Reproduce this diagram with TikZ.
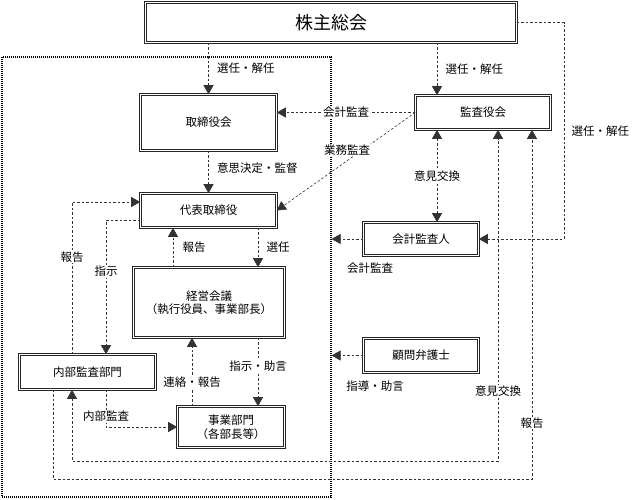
\documentclass[tikz,border=0pt]{standalone}
\usepackage{fontspec}
\setmainfont{Noto Sans CJK JP}
\usepackage{tikz}
\usetikzlibrary{arrows.meta,positioning}

\tikzset{
  box/.style={draw=black!85, double, double distance=1.8pt, line width=.6pt, align=center, inner sep=0pt},
  corpframe/.style={draw, line width=1.2pt, dash pattern=on 1pt off 1pt},
  conn/.style={draw=black!80, line width=.6pt, dash pattern=on 2.5pt off 2pt},
  lbl/.style={fill=white, inner sep=1pt},
}

\begin{document}
\begin{tikzpicture}[x=1pt, y=-1pt, >={Triangle[length=9pt,width=10pt]},
    every node/.style={font=\fontsize{11.5}{13.5}\selectfont}]
        \useasboundingbox (0,0) rectangle (633,499);
        % company frame
        \node[corpframe, minimum width=329pt, minimum height=440pt] (frame) at (166.5,277) {};

        % boxes
        \node[box, minimum width=371pt, minimum height=40pt, font=\fontsize{18}{20}\selectfont] (soukai) at (331,22.5) {株主総会};
        \node[box, minimum width=136pt, minimum height=56pt] (torishimari) at (208.5,122.5) {取締役会};
        \node[box, minimum width=135pt, minimum height=34pt] (kansa) at (483,112.5) {監査役会};
        \node[box, minimum width=136pt, minimum height=34pt] (daihyo) at (208.5,210.5) {代表取締役};
        \node[box, minimum width=151pt, minimum height=70pt] (keiei) at (209,302.5) {経営会議\\（執行役員、事業部長）};
        \node[box, minimum width=136pt, minimum height=35pt] (naibu) at (87.5,372) {内部監査部門};
        \node[box, minimum width=107pt, minimum height=41pt] (jigyo) at (231,427) {事業部門\\（各部長等）};
        \node[box, minimum width=115pt, minimum height=33pt] (kaikei) at (421,239) {会計監査人};
        \node[box, minimum width=115pt, minimum height=34pt] (komon) at (421,355.5) {顧問弁護士};

        % lanes
        \coordinate (xa) at (437,0);
        \coordinate (xb) at (498,0);
        \coordinate (xc) at (532,0);
        \coordinate (xd) at (564,0);
        \coordinate (xrep) at (72,0);
        \coordinate (xins) at (106,0);
        \coordinate (xaud) at (53,0);
        \coordinate (xup) at (173,0);
        \coordinate (xdn) at (258,0);
        \coordinate (xlink) at (192,0);
        \coordinate (ylow) at (0,461);
        \coordinate (ylower) at (0,479);

        % from the general meeting
        \draw[conn,->] (soukai.south -| torishimari.north) -- node[right=5pt]{選任・解任} (torishimari.north);
        \draw[conn,->] (soukai.south -| xa) -- node[right=5pt]{選任・解任} (kansa.north -| xa);
        \draw[conn,->] (soukai.east) -| node[pos=.75,right=4pt]{選任・解任} (xd |- kaikei.east) -- (kaikei.east);

        % audit board
        \draw[conn,->] (kansa.west) -- node[lbl]{会計監査} (torishimari.east |- kansa.west);
        \draw[conn,->] (kansa.west) -- (daihyo.east);
        \node[lbl] (gyomu) at (347,150) {業務監査};
        \draw[conn,<->] (kansa.south -| xa) -- node[lbl]{意見交換} (kaikei.north -| xa);

        % board and management
        \draw[conn,->] (torishimari) -- node[pos=.4,right=5pt]{意思決定・監督} (daihyo);
        \draw[conn,->] (daihyo.south -| xdn) -- node[right=5pt]{選任} (keiei.north -| xdn);
        \draw[conn,->] (keiei.north -| xup) -- node[right=6pt]{報告} (daihyo.south -| xup);
        \draw[conn,->] (keiei.south -| xdn) -- node[pos=.41,lbl]{指示・助言} (jigyo.north -| xdn);
        \draw[conn,->] (jigyo.north -| xlink) -- node[pos=.35,lbl]{連絡・報告} (keiei.south -| xlink);

        % internal audit
        \draw[conn,->] ([yshift=-10pt]daihyo.west) -| node[pos=.69,lbl]{指示} (naibu.north -| xins);
        \draw[conn,->] (naibu.north -| xrep) |- node[pos=.32,lbl]{報告} ([yshift=8.5pt]daihyo.west);
        \draw[conn,->] (naibu.south -| xins) |- node[pos=.36,lbl]{内部監査} (jigyo.west);
        \draw[conn,<->] (naibu.south -| xrep) |- (ylow -| xb) -- node[pos=.21,lbl]{意見交換} (kansa.south -| xb);
        \draw[conn,->] (naibu.south -| xaud) |- (ylower -| xc) -- node[pos=.16,lbl]{報告} (kansa.south -| xc);

        % outside
        \draw[conn,->] (kaikei.west) -- (kaikei.west -| frame.east);
        \node (kaikeilbl) at (370,268) {会計監査};
        \draw[conn,->] (komon.west) -- (komon.west -| frame.east);
        \node (shidolbl) at (375,386) {指導・助言};
    \end{tikzpicture}
\end{document}
